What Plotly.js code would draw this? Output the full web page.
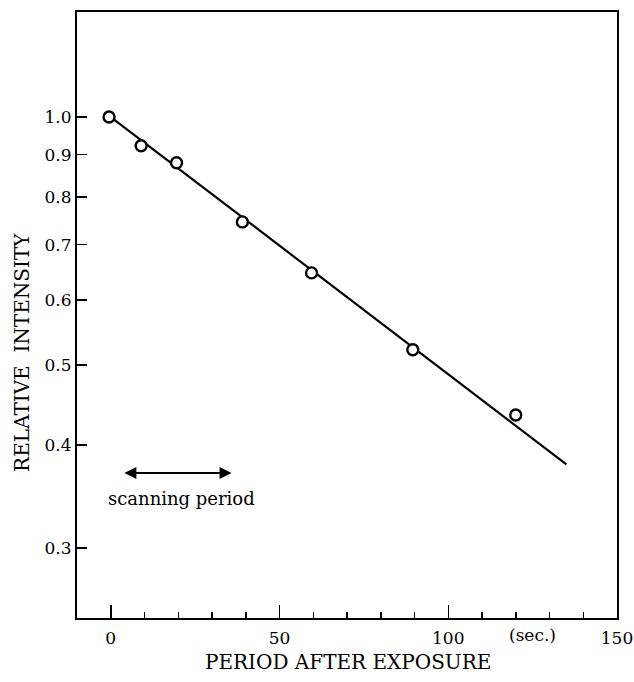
<!DOCTYPE html>
<html>
<head>
<meta charset="utf-8">
<script src="https://cdn.plot.ly/plotly-3.0.1.min.js"></script>
<style>
html,body{margin:0;padding:0;background:#fff;}
#chart{width:634px;height:682px;}
</style>
</head>
<body>
<div id="chart"></div>
<script>
// Measured points (seconds after exposure, relative intensity)
const periodSec = [-0.5, 9, 19.5, 39, 59.5, 89.5, 120];
const relIntensity = [1.0, 0.923, 0.880, 0.746, 0.647, 0.522, 0.435];
// Fitted straight line (on log scale)
const fitSec = [0, 135];
const fitIntensity = [1.0, 0.379];
// Scanning period arrow
const scanStart = 3.6;
const scanEnd = 35.8;
const scanLevel = 0.370;
// Ticks
const yTickVals = [0.3, 0.4, 0.5, 0.6, 0.7, 0.8, 0.9, 1.0];
const yTickText = ['0.3', '0.4', '0.5', '0.6', '0.7', '0.8', '0.9', '1.0'];
const xTickVals = [0, 50, 100, 150];
const xTickText = ['0', '50', '100', '150'];

const FONT = 'DejaVu Serif, Liberation Serif, serif';
const L = Math.log10;

const traces = [
  {
    x: fitSec, y: fitIntensity, mode: 'lines', type: 'scatter',
    line: {color: '#000', width: 2.2}, hoverinfo: 'skip', showlegend: false
  },
  {
    x: periodSec, y: relIntensity, mode: 'markers', type: 'scatter',
    marker: {symbol: 'circle', size: 11, color: '#fff', line: {color: '#000', width: 2.4}},
    showlegend: false
  }
];

const layout = {
  width: 634, height: 682,
  margin: {l: 77, r: 17, t: 12, b: 64},
  paper_bgcolor: '#fff', plot_bgcolor: '#fff',
  font: {family: FONT, color: '#000', size: 17},
  showlegend: false,
  xaxis: {
    range: [-10, 150],
    tickvals: xTickVals, ticktext: xTickText,
    ticks: 'inside', ticklen: 13, tickwidth: 1.5, tickcolor: '#000',
    minor: {dtick: 10, tick0: 0, ticks: 'inside', ticklen: 6, tickwidth: 1.5, tickcolor: '#000'},
    showline: true, linecolor: '#000', linewidth: 2, mirror: true,
    showgrid: false, zeroline: false,
    tickfont: {family: FONT, size: 17, color: '#000'},
    ticklabelstandoff: 4
  },
  yaxis: {
    type: 'log',
    range: [L(0.2467), L(1.341)],
    tickvals: yTickVals, ticktext: yTickText,
    ticks: 'inside', ticklen: 10, tickwidth: 1.5, tickcolor: '#000',
    showline: true, linecolor: '#000', linewidth: 2, mirror: true,
    showgrid: false, zeroline: false,
    tickfont: {family: FONT, size: 17, color: '#000'}
  },
  annotations: [
    {
      x: scanEnd, y: L(scanLevel), ax: scanStart, ay: L(scanLevel),
      xref: 'x', yref: 'y', axref: 'x', ayref: 'y',
      text: '', showarrow: true, arrowside: 'end+start',
      arrowhead: 2, arrowsize: 1.2, arrowwidth: 2, arrowcolor: '#000'
    },
    {
      x: 21, y: L(0.344), xref: 'x', yref: 'y',
      text: 'scanning period', showarrow: false,
      font: {family: FONT, size: 18, color: '#000'},
      xanchor: 'center', yanchor: 'middle'
    },
    {
      x: 125, y: -0.028, xref: 'x', yref: 'paper',
      text: '(sec.)', showarrow: false,
      font: {family: FONT, size: 17, color: '#000'},
      xanchor: 'center', yanchor: 'middle'
    },
    {
      x: 0.502, y: -0.0726, xref: 'paper', yref: 'paper',
      text: 'PERIOD AFTER EXPOSURE', showarrow: false,
      font: {family: FONT, size: 20, color: '#000'},
      xanchor: 'center', yanchor: 'middle'
    },
    {
      x: -0.102, y: 0.439, xref: 'paper', yref: 'paper',
      text: 'RELATIVE&nbsp; INTENSITY', showarrow: false, textangle: -90,
      font: {family: FONT, size: 20, color: '#000'},
      xanchor: 'center', yanchor: 'middle'
    }
  ]
};

Plotly.newPlot('chart', traces, layout, {displayModeBar: false, staticPlot: true});
</script>
</body>
</html>
